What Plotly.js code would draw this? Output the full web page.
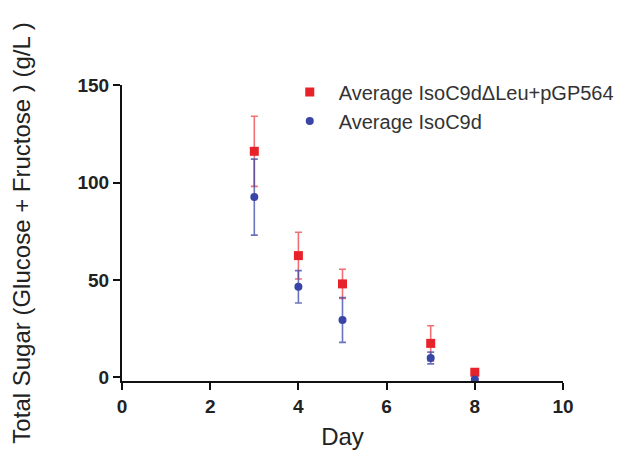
<!DOCTYPE html>
<html>
<head>
<meta charset="utf-8">
<script src="https://cdn.plot.ly/plotly-3.0.1.min.js"></script>
<style>html,body{margin:0;padding:0;background:#fff;}#chart{width:629px;height:460px;}</style>
</head>
<body>
<div id="chart"></div>
<script>
var days = [3, 4, 5, 7, 8];
var redMean = [116, 62.5, 48, 17.5, 2.7];
var redErr = [18, 12, 7.5, 9, 1.5];
var blueMean = [92.5, 46.5, 29.5, 10, -1];
var blueErr = [19.5, 8.3, 11.5, 3, 0.5];
var redName = "Average IsoC9d\u0394Leu+pGP564";
var blueName = "Average IsoC9d";
var xTicks = [0, 2, 4, 6, 8, 10];
var yTicks = [0, 50, 100, 150];

var red = {
  x: days, y: redMean, name: redName, type: 'scatter', mode: 'markers',
  marker: {symbol: 'square', size: 9, color: '#e8222a'},
  error_y: {type: 'data', array: redErr, visible: true, color: 'rgba(232,34,42,0.65)', thickness: 1.6, width: 3.5}
};
var blue = {
  x: days, y: blueMean, name: blueName, type: 'scatter', mode: 'markers',
  marker: {symbol: 'circle', size: 8, color: '#3845a6'},
  error_y: {type: 'data', array: blueErr, visible: true, color: 'rgba(56,69,166,0.75)', thickness: 1.6, width: 3.5}
};

var layout = {
  width: 629, height: 460,
  margin: {l: 122, r: 66, t: 85, b: 78.5, autoexpand: false},
  paper_bgcolor: '#fff', plot_bgcolor: '#fff',
  font: {family: 'Liberation Sans, Arial, sans-serif', color: '#222'},
  showlegend: true,
  legend: {x: 0.36, y: 1.042, xanchor: 'left', yanchor: 'top', bgcolor: 'rgba(0,0,0,0)',
           font: {size: 20, color: '#333'}, tracegroupgap: 0, itemwidth: 48},
  xaxis: {
    range: [0, 10], tickvals: xTicks, ticktext: xTicks.map(String),
    showgrid: false, zeroline: false, showline: true, linecolor: '#111', linewidth: 2,
    ticks: 'outside', ticklen: 7, tickwidth: 2, tickcolor: '#111',
    tickfont: {size: 19, color: '#222', weight: 'bold'},
    title: {text: 'Day', font: {size: 24, color: '#222'}, standoff: 12}
  },
  yaxis: {
    range: [-1.8, 150], tickvals: yTicks, ticktext: yTicks.map(String),
    showgrid: false, zeroline: false, showline: true, linecolor: '#111', linewidth: 2,
    ticks: 'outside', ticklen: 7, tickwidth: 2, tickcolor: '#111',
    tickfont: {size: 19, color: '#222', weight: 'bold'},
    title: {text: 'Total Sugar (Glucose + Fructose ) (g/L )', font: {size: 24, color: '#222'}, standoff: 40}
  }
};

Plotly.newPlot('chart', [red, blue], layout, {displayModeBar: false, staticPlot: true});
</script>
</body>
</html>
